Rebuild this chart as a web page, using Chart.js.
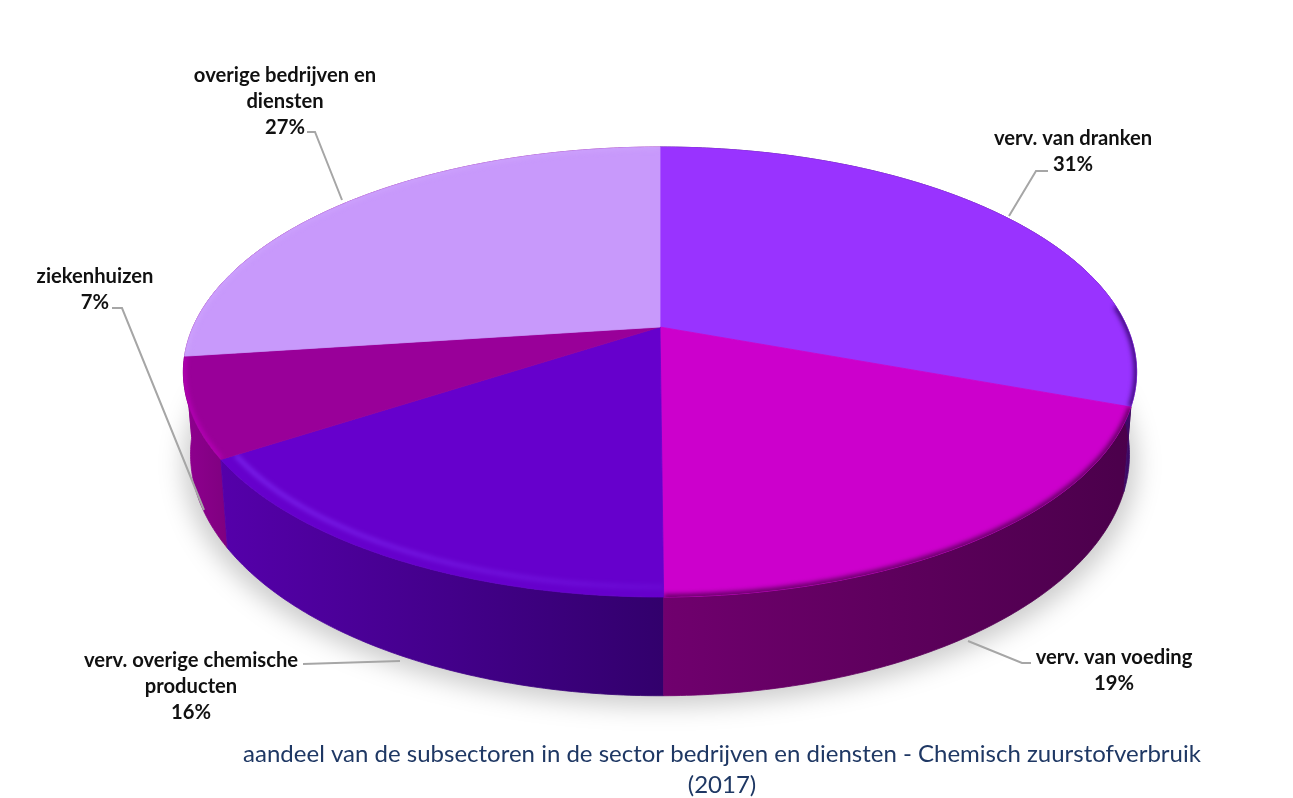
<!DOCTYPE html>
<html>
<head>
<meta charset="utf-8">
<title>Chemisch zuurstofverbruik</title>
<script src="https://cdn.jsdelivr.net/npm/chart.js@4/dist/chart.umd.min.js"></script>
<style>
  html, body { margin: 0; padding: 0; background: #ffffff; }
  canvas { display: block; }
</style>
</head>
<body>
<canvas id="pieChart" width="1293" height="798"></canvas>
<script>
// Data
const categories = ['verv. van dranken', 'verv. van voeding', 'verv. overige chemische producten', 'ziekenhuizen', 'overige bedrijven en diensten'];
const shares = [30.6, 19.3, 15.9, 7.1, 27.1];

// Colours per slice
const topColors = ['#9933ff', '#cc00cc', '#6600cc', '#990099', '#c899fb'];
const sideLeft = ['#3d0a66', '#70006e', '#5500aa', '#8f008f', '#8f008f'];
const sideRight = ['#3d0a66', '#4b004b', '#32006c', '#7f0080', '#8f008f'];
const rimColors = ['rgba(40,0,90,0.9)', 'rgba(70,0,70,0.9)', 'rgba(135,55,255,0.9)', 'rgba(190,0,190,0.8)', 'rgba(210,170,255,0.5)'];

// Labels: one line per entry, the percentage is added from shares
const labelLines = [['verv. van dranken'], ['verv. van voeding'], ['verv. overige chemische', 'producten'], ['ziekenhuizen'], ['overige bedrijven en', 'diensten']];
const labelAnchors = [[1073, 138], [1114, 657], [191, 660], [95, 276], [285, 75]];
const leaders = [
    [[1048, 171], [1036, 171], [1009, 216]],
    [[968, 641], [1022, 663], [1031, 663]],
    [[303, 664], [400, 661]],
    [[112, 308], [122, 308], [204, 510]],
    [[307, 132], [315, 132], [342, 200]]
];

// Perspective of the tilted disc
const cx = 660, cy = 327, radiusX = 467, radiusY = 216, tilt = 0.2;
const depth = 79, bottomScale = 0.985;

function project(angle, r, lower) {
    const x = Math.cos(angle) * r;
    const y = Math.sin(angle) * r;
    const w = 1 - tilt * y;
    let px = cx + radiusX * x / w;
    let py = cy + radiusY * y / w;
    if (lower) {
        px = cx + (px - cx) * bottomScale;
        py += depth / w;
    }
    return [px, py];
}

function rimPoints(a0, a1, r, lower) {
    const steps = Math.max(2, Math.ceil(Math.abs(a1 - a0) / 0.01));
    const pts = [];
    for (let i = 0; i <= steps; i++) {
        pts.push(project(a0 + (a1 - a0) * i / steps, r, lower));
    }
    return pts;
}

function tracePoints(ctx, pts, start) {
    pts.forEach(function(p, i) {
        if (i === 0 && start) ctx.moveTo(p[0], p[1]);
        else ctx.lineTo(p[0], p[1]);
    });
}

const pie3d = {
    id: 'pie3d',
    beforeDatasetDraw(chart, args) {
        const ctx = chart.ctx;
        const arcs = chart.getDatasetMeta(args.index).data;

        // soft shadow under the pie
        ctx.save();
        ctx.filter = 'blur(12px)';
        ctx.fillStyle = 'rgba(0,0,0,0.2)';
        ctx.beginPath();
        tracePoints(ctx, rimPoints(0, Math.PI * 2, 1, true).map(function(p) {
            return [cx + (p[0] - cx) * 1.015, p[1] + 10];
        }), true);
        ctx.closePath();
        ctx.fill();
        ctx.restore();

        // side walls, last slice first so the front ones stay on top
        arcs.slice().reverse().forEach(function(arc, n) {
            const i = arcs.length - 1 - n;
            const top = rimPoints(arc.startAngle, arc.endAngle, 1, false);
            const bottom = rimPoints(arc.endAngle, arc.startAngle, 1, true);
            const xs = top.concat(bottom).map(function(p) { return p[0]; });
            const grad = ctx.createLinearGradient(Math.min.apply(null, xs), 0, Math.max.apply(null, xs), 0);
            grad.addColorStop(0, sideLeft[i]);
            grad.addColorStop(1, sideRight[i]);
            ctx.fillStyle = grad;
            ctx.strokeStyle = grad;
            ctx.lineWidth = 0.8;
            ctx.beginPath();
            tracePoints(ctx, top, true);
            tracePoints(ctx, bottom, false);
            ctx.closePath();
            ctx.fill();
            ctx.stroke();
        });

        // top faces with a soft rim
        arcs.forEach(function(arc, i) {
            const rim = rimPoints(arc.startAngle, arc.endAngle, 1, false);
            ctx.beginPath();
            ctx.moveTo(cx, cy);
            tracePoints(ctx, rim, false);
            ctx.closePath();
            ctx.fillStyle = topColors[i];
            ctx.strokeStyle = topColors[i];
            ctx.lineWidth = 0.8;
            ctx.fill();
            ctx.stroke();
        });
        arcs.forEach(function(arc, i) {
            const rim = rimPoints(arc.startAngle, arc.endAngle, 1, false);
            ctx.save();
            ctx.beginPath();
            ctx.moveTo(cx, cy);
            tracePoints(ctx, rim, false);
            ctx.closePath();
            ctx.clip();
            ctx.filter = 'blur(2.5px)';
            ctx.lineWidth = i === 2 ? 3 : 5;
            ctx.strokeStyle = rimColors[i];
            let shade;
            if (i === 0) {
                shade = rimPoints(arc.endAngle - 0.45, arc.endAngle, 1, false);
            } else if (i === 2) {
                // highlight sits just inside the edge and fades to the right
                const fade = ctx.createLinearGradient(225, 0, 660, 0);
                fade.addColorStop(0, rimColors[2]);
                fade.addColorStop(1, 'rgba(135,55,255,0.25)');
                ctx.strokeStyle = fade;
                shade = rimPoints(arc.startAngle, arc.endAngle, 0.97, false);
            } else {
                shade = rimPoints(arc.startAngle, arc.endAngle, 1, false);
            }
            ctx.beginPath();
            tracePoints(ctx, shade, true);
            ctx.stroke();
            ctx.restore();
        });
        return false;
    },
    afterDraw(chart) {
        const ctx = chart.ctx;
        ctx.save();

        ctx.strokeStyle = '#a6a6a6';
        ctx.lineWidth = 2;
        leaders.forEach(function(line) {
            ctx.beginPath();
            tracePoints(ctx, line, true);
            ctx.stroke();
        });

        ctx.fillStyle = '#111111';
        ctx.font = "bold 20.2px Lato, 'Open Sans', sans-serif";
        ctx.textAlign = 'center';
        ctx.textBaseline = 'middle';
        labelLines.forEach(function(lines, i) {
            const text = lines.concat([Math.round(shares[i]) + '%']);
            text.forEach(function(line, j) {
                ctx.fillText(line, labelAnchors[i][0], labelAnchors[i][1] + j * 26);
            });
        });
        ctx.restore();
    }
};

new Chart(document.getElementById('pieChart'), {
    type: 'pie',
    data: {
        labels: categories,
        datasets: [{
            data: shares,
            backgroundColor: topColors,
            borderWidth: 0
        }]
    },
    options: {
        responsive: false,
        animation: false,
        layout: { padding: { left: 151 } },
        plugins: {
            legend: { display: false },
            tooltip: { enabled: false },
            title: {
                display: true,
                position: 'bottom',
                fullSize: false,
                text: ['aandeel van de subsectoren in de sector bedrijven en diensten - Chemisch zuurstofverbruik', '(2017)'],
                color: '#1f3864',
                font: { family: "Lato, 'Open Sans', sans-serif", size: 24, weight: 'normal', lineHeight: 1.3 },
                padding: { top: 0, bottom: -3 }
            }
        }
    },
    plugins: [pie3d]
});
</script>
</body>
</html>
